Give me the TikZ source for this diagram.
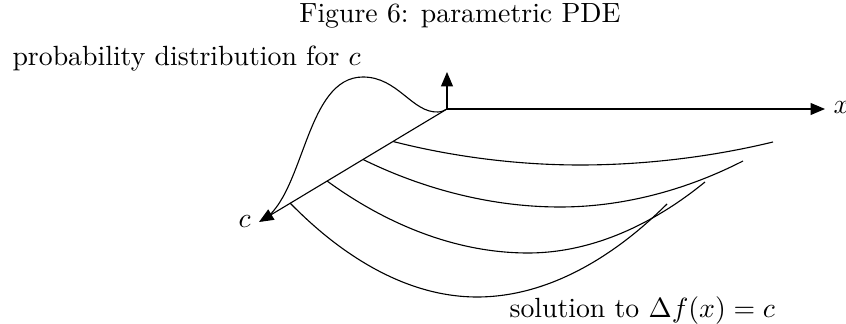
\documentclass[tikz,border=0pt]{standalone}
\usetikzlibrary{arrows.meta}
\begin{document}
\begin{tikzpicture}[x=0.36pt,y=-0.36pt,
  line width=0.4pt,
  axisarrow/.style={-{Triangle[length=5.2pt,width=4.3pt]}},
  lbl/.style={inner sep=0pt,anchor=base west},
  curveline/.style={line width=0.4pt}]
\useasboundingbox (0,0) rectangle (846,324);
% axes
\coordinate (O) at (447,109);
\coordinate (tipx) at (825,109);
\coordinate (tipy) at (447,72);
\coordinate (tipc) at (259,222);
\draw[axisarrow] (O) -- (tipx);
\draw[axisarrow] (O) -- (tipy);
\draw[axisarrow] (O) -- (tipc);
% probability distribution
\coordinate (pk) at (363,77);
\coordinate (tr) at (438,112);
\draw[curveline] (262,221) .. controls (305,195) and (305,77) .. (pk)
   .. controls (398,77) and (412,113) .. (tr)
   .. controls (442,112) and (445,110) .. (O);
% solution curves
\coordinate (s1) at (393,141.5); \coordinate (m1) at (580,165); \coordinate (e1) at (773,142);
\coordinate (s2) at (363,159.5); \coordinate (m2) at (560,207); \coordinate (e2) at (743,161);
\coordinate (s3) at (327,181); \coordinate (m3) at (528,253); \coordinate (e3) at (705,182);
\coordinate (s4) at (290,203); \coordinate (m4) at (477,297); \coordinate (e4) at (667,204);
\draw[curveline] (s1) parabola bend (m1) (e1);
\draw[curveline] (s2) parabola bend (m2) (e2);
\draw[curveline] (s3) parabola bend (m3) (e3);
\draw[curveline] (s4) parabola bend (m4) (e4);
% labels
\node[inner sep=0pt,anchor=base] (title) at (460,23) {Figure 6: parametric PDE};
\node[lbl] (prob) at (12,66) {probability distribution for $c$};
\node[lbl] (xl) at (833,114) {$x$};
\node[lbl] (cl) at (238,228) {$c$};
\node[lbl] (sol) at (509,318) {solution to $\Delta f(x)=c$};
\end{tikzpicture}
\end{document}
